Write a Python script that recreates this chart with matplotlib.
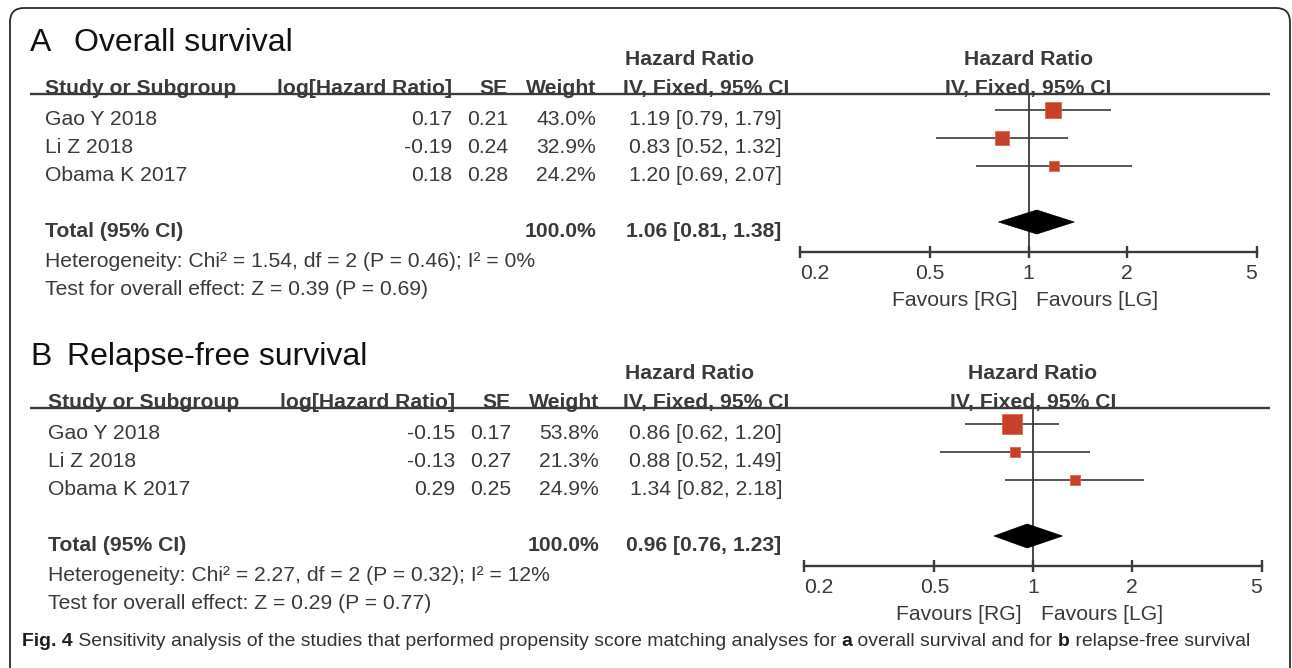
import numpy as np
import matplotlib
matplotlib.use('Agg')
import matplotlib.pyplot as plt
from matplotlib.patches import FancyBboxPatch, Polygon
from matplotlib.ticker import NullLocator

plt.rcParams['font.family'] = ['Liberation Sans', 'DejaVu Sans']

# ---- data ----
studies = ['Gao Y 2018', 'Li Z 2018', 'Obama K 2017']

os_loghr = [0.17, -0.19, 0.18]
os_se = [0.21, 0.24, 0.28]
os_weight = [43.0, 32.9, 24.2]
os_hr = [1.19, 0.83, 1.20]
os_lo = [0.79, 0.52, 0.69]
os_hi = [1.79, 1.32, 2.07]
os_total = [1.06, 0.81, 1.38]
os_het = 'Heterogeneity: Chi² = 1.54, df = 2 (P = 0.46); I² = 0%'
os_test = 'Test for overall effect: Z = 0.39 (P = 0.69)'

rfs_loghr = [-0.15, -0.13, 0.29]
rfs_se = [0.17, 0.27, 0.25]
rfs_weight = [53.8, 21.3, 24.9]
rfs_hr = [0.86, 0.88, 1.34]
rfs_lo = [0.62, 0.52, 0.82]
rfs_hi = [1.20, 1.49, 2.18]
rfs_total = [0.96, 0.76, 1.23]
rfs_het = 'Heterogeneity: Chi² = 2.27, df = 2 (P = 0.32); I² = 12%'
rfs_test = 'Test for overall effect: Z = 0.29 (P = 0.77)'

total_weight = '100.0%'
ticks = [0.2, 0.5, 1, 2, 5]
tick_labels = ['0.2', '0.5', '1', '2', '5']

caption = [('Fig. 4', 'bold'),
           (' Sensitivity analysis of the studies that performed propensity score matching analyses for ', 'normal'),
           ('a', 'bold'), (' overall survival and for ', 'normal'),
           ('b', 'bold'), (' relapse-free survival', 'normal')]

# ---- style ----
W, H = 1292, 668
TXT = '#3a3a3a'
LINE = '#3c3a38'
RED = '#c8402a'
FS = 15.2
FSB = 15.2

fig = plt.figure(figsize=(W / 100, H / 100), dpi=100)
bg = fig.add_axes([0, 0, 1, 1])
bg.set_xlim(0, W)
bg.set_ylim(H, 0)
bg.axis('off')

frame = FancyBboxPatch((10, 8), 1280, 680, boxstyle='round,pad=0,rounding_size=14',
                       fc='none', ec='#2a2a2a', lw=1.3)
bg.add_patch(frame)


def txt(x, y, s, size=FS, weight='normal', ha='left', color=TXT, **kw):
    # y is the visual middle of the capitals
    cap = 0.716 * size * 100 / 72
    return bg.text(x, y + cap / 2, s, fontsize=size, fontweight=weight, ha=ha,
                   va='baseline', color=color, **kw)


def panel(dy, dx, letter, title, title_x, loghr, se, weight, hr, lo, hi, total, het, test,
          ax_left, ax_right):
    rowh = 28
    row0 = 117 + dy
    rule_y = 94 + dy
    axis_y = 252 + dy

    txt(30, 40 + dy, letter, size=23, color='#111111')
    txt(title_x, 40 + dy, title, size=23, color='#111111')

    # header
    hx = 45 + dx
    txt(625, 57 + dy, 'Hazard Ratio', size=FSB, weight='bold')
    txt(hx, 86 + dy, 'Study or Subgroup', size=FSB, weight='bold')
    txt(452 + dx, 86 + dy, 'log[Hazard Ratio]', size=FSB, weight='bold', ha='right')
    txt(508 + dx, 86 + dy, 'SE', size=FSB, weight='bold', ha='right')
    txt(596 + dx, 86 + dy, 'Weight', size=FSB, weight='bold', ha='right')
    txt(623, 86 + dy, 'IV, Fixed, 95% CI', size=FSB, weight='bold')
    bg.hlines(rule_y, 30, 1270, color=LINE, lw=1.7)

    for i, name in enumerate(studies):
        y = row0 + i * rowh
        txt(hx, y, name)
        txt(452 + dx, y, f'{loghr[i]:.2f}', ha='right')
        txt(508 + dx, y, f'{se[i]:.2f}', ha='right')
        txt(596 + dx, y, f'{weight[i]:.1f}%', ha='right')
        txt(782, y, f'{hr[i]:.2f} [{lo[i]:.2f}, {hi[i]:.2f}]', ha='right')

    yt = row0 + 4 * rowh
    txt(hx, yt, 'Total (95% CI)', weight='bold', size=FSB)
    txt(596 + dx, yt, total_weight, weight='bold', ha='right')
    txt(781, yt, f'{total[0]:.2f} [{total[1]:.2f}, {total[2]:.2f}]', weight='bold', ha='right')
    txt(hx, 259 + dy, het)
    txt(hx, 287 + dy, test)

    # forest plot axes
    ax = fig.add_axes([ax_left / W, 1 - axis_y / H, (ax_right - ax_left) / W,
                       (axis_y - rule_y) / H])
    mark0 = row0 - 7
    ax.set_ylim((axis_y - mark0) / rowh, (rule_y - mark0) / rowh)
    ax.set_xscale('log')
    ax.set_xlim(ticks[0], ticks[-1])
    ax.patch.set_alpha(0)
    for s in ['top', 'left', 'right']:
        ax.spines[s].set_visible(False)
    ax.spines['bottom'].set_color(LINE)
    ax.spines['bottom'].set_linewidth(1.7)
    ax.set_yticks([])
    ax.set_xticks(ticks)
    ax.set_xticklabels(tick_labels)
    ax.xaxis.set_minor_locator(NullLocator())
    ax.tick_params(axis='x', direction='inout', length=9, width=1.7, color=LINE,
                   labelsize=FS, labelcolor=TXT, pad=4)
    lbls = ax.get_xticklabels()
    lbls[0].set_ha('left')
    lbls[-1].set_ha('right')
    ax.axvline(1, color=LINE, lw=1.3, zorder=1)

    rows = np.arange(len(studies))
    ax.hlines(rows, lo, hi, color=LINE, lw=1.2, zorder=2)
    for i in rows:
        side = (0.33 * weight[i] + 2.5) * 0.72
        ax.plot(hr[i], i, marker='s', ms=side, color=RED, mec='#d86a4a', mew=0.6,
                ls='none', zorder=3)
    h = 12 / rowh
    dia = Polygon([(total[1], 4), (total[0], 4 - h), (total[2], 4), (total[0], 4 + h)],
                  closed=True, fc='black', ec='black', lw=0.5, zorder=4)
    ax.add_patch(dia)

    # headers and favours text around HR = 1
    frac = np.log(1 / ticks[0]) / np.log(ticks[-1] / ticks[0])
    x1 = ax_left + frac * (ax_right - ax_left)
    txt(x1, 57 + dy, 'Hazard Ratio', size=FSB, weight='bold', ha='center')
    txt(x1, 86 + dy, 'IV, Fixed, 95% CI', size=FSB, weight='bold', ha='center')
    txt(x1 - 11, 298 + dy, 'Favours [RG]', ha='right')
    txt(x1 + 8, 298 + dy, 'Favours [LG]', ha='left')
    return ax


panel(0, 0, 'A', 'Overall survival', 74, os_loghr, os_se, os_weight, os_hr, os_lo, os_hi,
      os_total, os_het, os_test, 800, 1257)
panel(314, 3, 'B', 'Relapse-free survival', 67, rfs_loghr, rfs_se, rfs_weight, rfs_hr, rfs_lo,
      rfs_hi, rfs_total, rfs_het, rfs_test, 804, 1262)

# caption, fitted to its width in the reference
cap_fam = ['Liberation Sans Narrow', 'DejaVu Sans Condensed', 'Liberation Sans']
cap_x0, cap_x1, cap_y = 22, 1250, 641
renderer = fig.canvas.get_renderer()
pieces = []
for s, w in caption:
    t = bg.text(0, cap_y, s, fontsize=12, fontweight=w, family=cap_fam,
                color='#1e1e1e' if w == 'bold' else '#333333', va='center')
    pieces.append(t)
widths = [t.get_window_extent(renderer).width for t in pieces]
scale = (cap_x1 - cap_x0) / sum(widths)
x = cap_x0
for t in pieces:
    t.set_fontsize(12 * scale)
for t in pieces:
    t.set_x(x)
    x += t.get_window_extent(renderer).width

fig.savefig('out.png', dpi=100)
